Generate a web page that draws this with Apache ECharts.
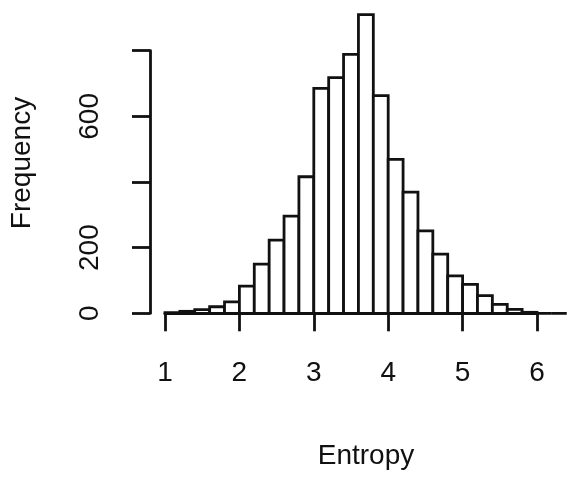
<!DOCTYPE html>
<html>
<head>
<meta charset="utf-8">
<script src="https://cdn.jsdelivr.net/npm/echarts@6/dist/echarts.min.js"></script>
<style>
  html, body { margin: 0; padding: 0; background: #fff; }
  #chart { width: 567px; height: 477px; }
</style>
</head>
<body>
<div id="chart"></div>
<script>
// histogram bins (width 0.2) and counts
const binStarts = [1.0, 1.2, 1.4, 1.6, 1.8, 2.0, 2.2, 2.4, 2.6, 2.8, 3.0, 3.2, 3.4,
  3.6, 3.8, 4.0, 4.2, 4.4, 4.6, 4.8, 5.0, 5.2, 5.4, 5.6, 5.8, 6.0, 6.2]
const binWidth = 0.2
const counts = [2, 6, 11, 20, 35, 83, 150, 223, 296, 416, 685, 718, 789,
  910, 663, 469, 369, 251, 180, 114, 88, 54, 27, 12, 3, 0, 0]

const xTicks = [1, 2, 3, 4, 5, 6]
const yLabelsShown = [0, 200, 600]
const xTitle = 'Entropy'
const yTitle = 'Frequency'

const font = '"Liberation Sans", Arial, sans-serif'
const ink = '#111'
const lw = 2.8

const chart = echarts.init(document.getElementById('chart'))

const bins = binStarts.map((s, i) => [s, +(s + binWidth).toFixed(1), counts[i]])

const option = {
  animation: false,
  backgroundColor: '#fff',
  grid: {
    left: 165,
    right: 30,
    top: 50.7,
    bottom: 163.7,
  },
  xAxis: {
    type: 'value',
    min: xTicks[0],
    max: xTicks[xTicks.length - 1],
    interval: 1,
    offset: 14,
    splitLine: { show: false },
    axisLine: { show: true, lineStyle: { color: ink, width: lw } },
    axisTick: { show: true, length: 18, lineStyle: { color: ink, width: lw } },
    axisLabel: {
      margin: 32,
      color: ink,
      fontFamily: font,
      fontSize: 28,
      showMinLabel: true,
      showMaxLabel: true,
    },
  },
  yAxis: {
    type: 'value',
    min: 0,
    max: 800,
    interval: 200,
    offset: 15,
    splitLine: { show: false },
    axisLine: { show: true, lineStyle: { color: ink, width: lw } },
    axisTick: { show: true, length: 18, lineStyle: { color: ink, width: lw } },
    axisLabel: {
      rotate: 90,
      margin: 46,
      color: ink,
      fontFamily: font,
      fontSize: 28,
      formatter: (v) => (yLabelsShown.includes(v) ? String(v) : ''),
    },
  },
  graphic: [
    {
      type: 'text',
      x: 366,
      y: 456,
      style: {
        text: xTitle,
        fill: ink,
        font: '28px ' + font,
        textAlign: 'center',
        textVerticalAlign: 'middle',
      },
    },
    {
      type: 'text',
      x: 22,
      y: 163,
      rotation: Math.PI / 2,
      style: {
        text: yTitle,
        fill: ink,
        font: '28px ' + font,
        textAlign: 'center',
        textVerticalAlign: 'middle',
      },
    },
  ],
  series: [
    {
      type: 'custom',
      clip: false,
      data: bins,
      encode: { x: [0, 1], y: 2 },
      renderItem: (params, api) => {
        const p0 = api.coord([api.value(0), 0])
        const p1 = api.coord([api.value(1), api.value(2)])
        return {
          type: 'rect',
          shape: {
            x: p0[0],
            y: p1[1],
            width: p1[0] - p0[0],
            height: p0[1] - p1[1],
          },
          style: { fill: '#fff', stroke: ink, lineWidth: lw },
        }
      },
    },
  ],
}

chart.setOption(option)
</script>
</body>
</html>
